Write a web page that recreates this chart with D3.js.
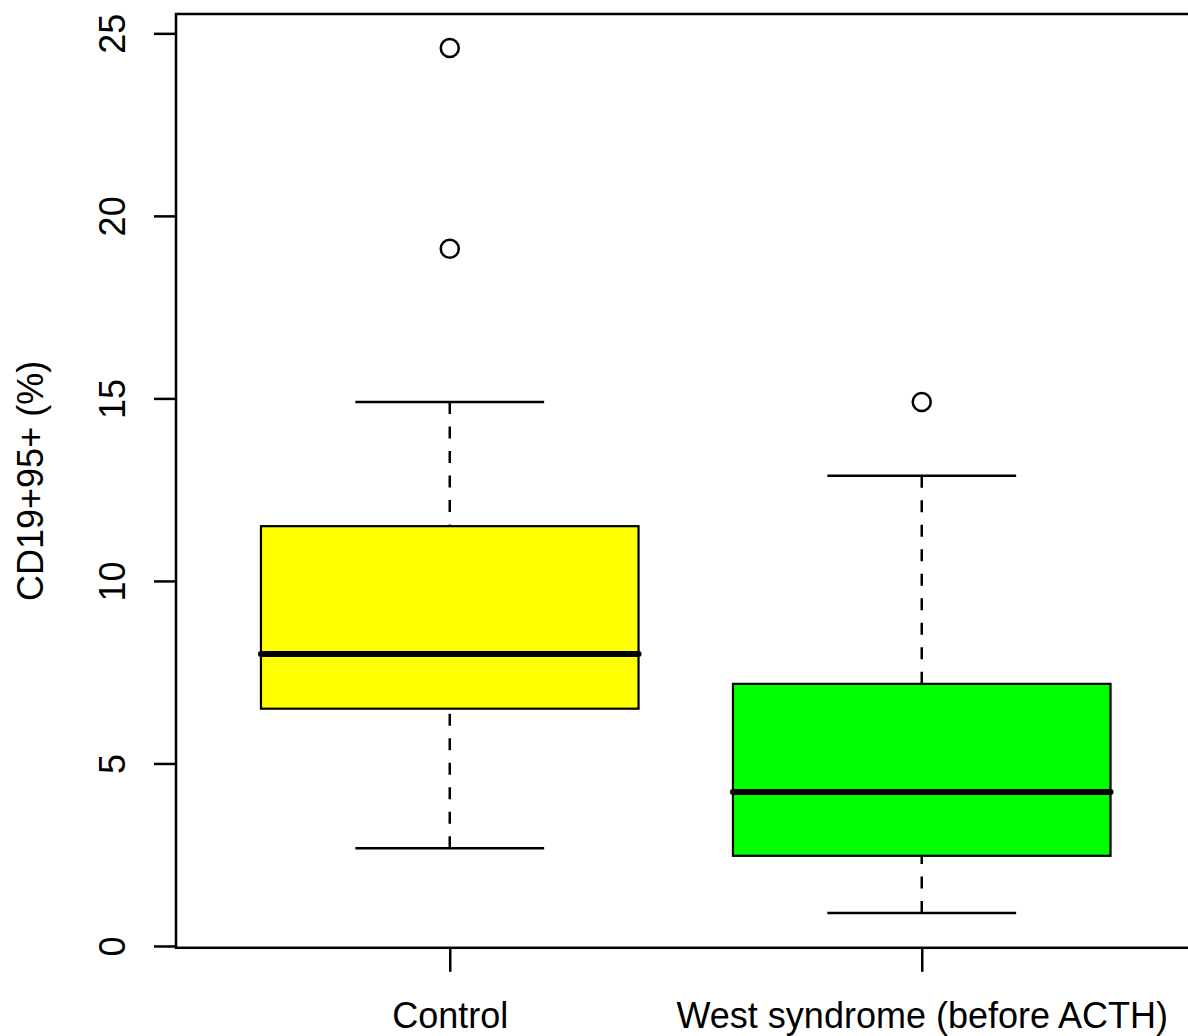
<!DOCTYPE html>
<html>
  <head>
    <meta charset="UTF-8" />
    <title>CD19+95+ boxplot</title>
    <script src="https://d3js.org/d3.v7.min.js"></script>
    <style>
      * {
        margin: 0;
        padding: 0;
        box-sizing: border-box;
      }
      body {
        background-color: #ffffff;
      }
      svg {
        display: block;
      }
      text {
        fill: #000000;
        font-family: "Liberation Sans", Arial, sans-serif;
        font-size: 36px;
      }
      .frame {
        fill: none;
        stroke: #000000;
        stroke-width: 2.5;
      }
      .box {
        stroke: #000000;
        stroke-width: 2.2;
      }
      .control {
        fill: #ffff00;
      }
      .west {
        fill: #00ff00;
      }
      .whisker {
        stroke: #000000;
        stroke-width: 2.5;
        stroke-dasharray: 12 12.5;
      }
      .staple {
        stroke: #000000;
        stroke-width: 2.5;
      }
      .median {
        stroke: #000000;
        stroke-width: 6;
        stroke-linecap: round;
      }
      .outlier {
        fill: none;
        stroke: #000000;
        stroke-width: 2.5;
      }
      .axis path,
      .axis line {
        stroke: #000000;
        stroke-width: 2.5;
      }
    </style>
  </head>
  <body>
    <svg id="chart" width="1188" height="1036"></svg>
  </body>
  <script>
    // values
    const groups = ["Control", "West syndrome (before ACTH)"];
    const groupClasses = ["control", "west"];
    const lowerWhisker = [2.68, 0.9];
    const lowerQuartile = [6.5, 2.47];
    const medians = [8.0, 4.22];
    const upperQuartile = [11.5, 7.18];
    const upperWhisker = [14.9, 12.88];
    const outliers = [[24.6, 19.1], [14.9]];
    const yTicks = [0, 5, 10, 15, 20, 25];
    const yLabel = "CD19+95+ (%)";

    const svg = d3.select("#chart");

    // R style extended ranges: x 0.42..2.58, y a little past the data
    const x = d3.scaleLinear().domain([0.42, 2.58]).range([176, 1195.5]);
    const y = d3.scaleLinear().domain([-0.05, 25.53]).range([947.8, 14]);

    const boxes = groups.map((g, i) => ({
      pos: i + 1,
      cls: groupClasses[i],
      lo: lowerWhisker[i],
      q1: lowerQuartile[i],
      med: medians[i],
      q3: upperQuartile[i],
      hi: upperWhisker[i],
      out: outliers[i]
    }));

    // whiskers, drawn from the whisker end toward the box
    boxes.forEach((b) => {
      [[b.lo, b.q1], [b.hi, b.q3]].forEach(([from, to]) => {
        svg.append("line")
          .attr("class", "whisker")
          .attr("x1", x(b.pos))
          .attr("x2", x(b.pos))
          .attr("y1", y(from))
          .attr("y2", y(to));
      });
      [b.lo, b.hi].forEach((v) => {
        svg.append("line")
          .attr("class", "staple")
          .attr("x1", x(b.pos - 0.2))
          .attr("x2", x(b.pos + 0.2))
          .attr("y1", y(v))
          .attr("y2", y(v));
      });

      svg.append("rect")
        .attr("class", `box ${b.cls}`)
        .attr("x", x(b.pos - 0.4))
        .attr("y", y(b.q3))
        .attr("width", x(b.pos + 0.4) - x(b.pos - 0.4))
        .attr("height", y(b.q1) - y(b.q3));

      svg.append("line")
        .attr("class", "median")
        .attr("x1", x(b.pos - 0.4))
        .attr("x2", x(b.pos + 0.4))
        .attr("y1", y(b.med))
        .attr("y2", y(b.med));

      svg.selectAll(null)
        .data(b.out)
        .enter()
        .append("circle")
        .attr("class", "outlier")
        .attr("cx", x(b.pos))
        .attr("cy", (d) => y(d))
        .attr("r", 9);
    });

    // plot frame
    svg.append("rect")
      .attr("class", "frame")
      .attr("x", x(0.42))
      .attr("y", y(25.53))
      .attr("width", x(2.58) - x(0.42))
      .attr("height", y(-0.05) - y(25.53));

    // y axis
    const yAxis = svg.append("g")
      .attr("class", "axis")
      .attr("transform", `translate(${x(0.42)},0)`)
      .call(d3.axisLeft(y).tickValues(yTicks).tickSize(22).tickSizeOuter(0));
    yAxis.select(".domain").remove();
    yAxis.selectAll("text")
      .attr("x", 0)
      .attr("y", -51)
      .attr("dy", 0)
      .attr("transform", "rotate(-90)")
      .attr("text-anchor", "middle")
      .style("font-size", "36px")
      .style("font-family", '"Liberation Sans", Arial, sans-serif');

    // x axis
    const xAxis = svg.append("g")
      .attr("class", "axis")
      .attr("transform", `translate(0,${y(-0.05)})`)
      .call(d3.axisBottom(x).tickValues([1, 2]).tickSize(24).tickSizeOuter(0).tickFormat((d) => groups[d - 1]));
    xAxis.select(".domain").remove();
    xAxis.selectAll("text")
      .attr("y", 0)
      .attr("dy", 0)
      .attr("transform", `translate(0,${1028 - y(-0.05)})`)
      .style("font-size", "36px")
      .style("font-family", '"Liberation Sans", Arial, sans-serif');

    // y axis title
    svg.append("text")
      .attr("transform", `translate(43,${(y(-0.05) + y(25.53)) / 2}) rotate(-90)`)
      .attr("text-anchor", "middle")
      .text(yLabel);
  </script>
</html>
